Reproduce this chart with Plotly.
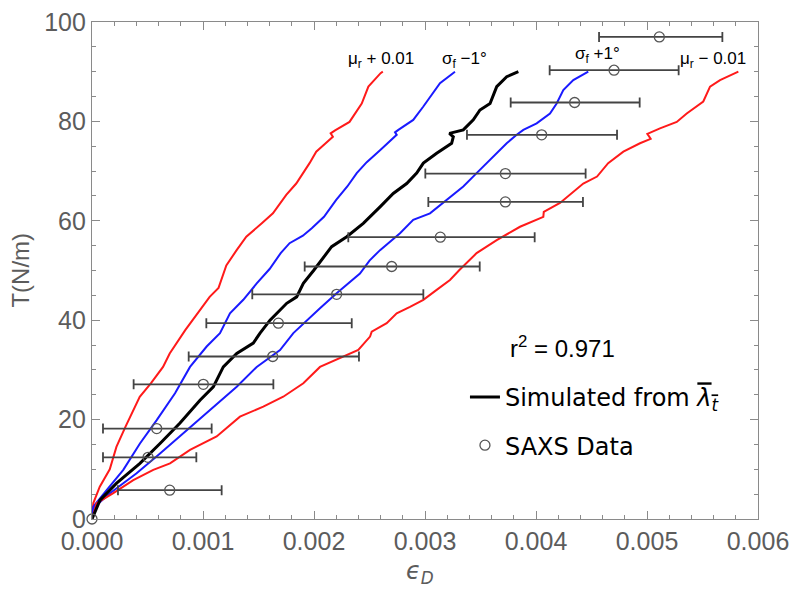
import numpy as np
import plotly.graph_objects as go

# ---------------- data (strain in units of 1e-3, tension in N/m) ----------------
red_left_x = [0, 0.012, 0.07, 0.16, 0.22, 0.30, 0.43, 0.53, 0.64, 0.70, 0.84, 0.94, 1.02, 1.06, 1.14, 1.21,
              1.30, 1.35, 1.39, 1.53, 1.63, 1.75, 1.84, 1.96, 2.02, 2.10, 2.17, 2.15, 2.19, 2.32, 2.43, 2.49,
              2.55, 2.60, 2.62]
red_left_T = [0, 3.2, 6.5, 10.0, 14.5, 18.5, 24.6, 27.3, 30.6, 33.3, 38.0, 41.0, 43.4, 44.7, 46.5, 51.0,
              54.0, 55.5, 56.8, 59.5, 61.5, 65.2, 67.5, 71.6, 73.9, 75.5, 76.9, 77.6, 78.2, 79.9, 83.6, 87.0,
              88.5, 89.7, 90.0]

blue_left_x = [0, 0.012, 0.132, 0.282, 0.432, 0.583, 0.748, 0.883, 1.033, 1.153, 1.243, 1.363, 1.484, 1.60,
               1.70, 1.78, 1.90, 1.98, 2.09, 2.20, 2.30, 2.385, 2.475, 2.534, 2.595, 2.745, 2.73, 2.76, 2.894,
               2.985, 3.075, 3.135, 3.27]
blue_left_T = [0, 2.5, 5.8, 9.9, 15.2, 19.9, 25.3, 30.6, 34.7, 37.4, 41.4, 44.1, 47.4, 50.3,
               53.5, 55.5, 57.0, 58.5, 60.8, 64.2, 66.9, 69.6, 71.8, 72.9, 74.2, 77.3, 77.8, 78.3, 80.3,
               83.0, 85.7, 87.7, 90.0]

black_x = [0, 0.072, 0.222, 0.432, 0.613, 0.793, 0.973, 1.093, 1.183, 1.304, 1.453, 1.514, 1.604, 1.754,
           1.844, 1.904, 2.00, 2.159, 2.295, 2.444, 2.595, 2.714, 2.835, 2.925, 2.985, 3.105, 3.24, 3.255,
           3.22, 3.345, 3.435, 3.495, 3.586, 3.646, 3.736, 3.841]
black_T = [0, 3.8, 7.2, 11.2, 15.2, 19.3, 23.9, 26.6, 30.6, 33.3, 35.4, 37.4, 40.0, 43.4,
           44.7, 47.4, 50.1, 54.8, 56.8, 59.5, 62.8, 65.5, 67.5, 69.6, 71.6, 73.6, 75.6, 76.9,
           77.6, 78.3, 80.3, 82.3, 83.6, 87.0, 89.0, 90.0]

blue_right_x = [0, 0.027, 0.162, 0.402, 0.613, 0.853, 1.093, 1.304, 1.484, 1.694, 1.814, 1.934, 2.054,
                2.204, 2.414, 2.50, 2.595, 2.775, 2.894, 3.045, 3.195, 3.345, 3.465, 3.556, 3.646, 3.736,
                3.826, 3.886, 4.006, 4.126, 4.186, 4.246, 4.336, 4.471]
blue_right_T = [0, 2.5, 5.2, 9.2, 13.2, 17.9, 22.6, 26.6, 30.6, 34.0, 37.4, 40.0, 42.4,
                45.4, 49.4, 52.0, 54.1, 57.5, 60.2, 61.5, 64.2, 66.9, 69.6, 71.6, 73.6, 75.6,
                77.3, 78.3, 79.6, 81.6, 83.6, 86.3, 88.3, 90.0]

red_right_x = [0, 0.042, 0.192, 0.372, 0.552, 0.703, 0.883, 1.123, 1.333, 1.543, 1.723, 1.904, 2.054,
               2.234, 2.399, 2.505, 2.52, 2.655, 2.745, 2.865, 2.985, 3.105, 3.225, 3.31, 3.465, 3.646,
               3.856, 4.066, 4.07, 4.216, 4.336, 4.426, 4.55, 4.65, 4.787, 4.937, 5.033, 5.003, 5.117,
               5.268, 5.358, 5.448, 5.507, 5.568, 5.658, 5.823]
red_right_T = [0, 3.2, 5.2, 7.8, 9.9, 11.2, 13.9, 16.6, 20.6, 22.6, 24.6, 27.3, 30.6,
               32.3, 34.0, 36.7, 37.7, 39.4, 41.4, 42.7, 44.1, 46.1, 48.1, 50.1, 53.5, 56.1,
               58.8, 60.8, 61.8, 63.6, 65.8, 67.5, 68.9, 71.6, 73.9, 75.6, 76.5, 77.5, 78.6,
               79.9, 81.6, 83.0, 84.0, 87.0, 88.3, 90.0]

saxs_x = [0, 0.70, 0.505, 0.583, 1.003, 1.628, 1.679, 2.204, 2.70, 3.138, 3.724, 3.724, 4.051, 4.348, 4.703, 5.111]
saxs_T = [0, 5.8, 12.4, 18.2, 27.1, 32.7, 39.4, 45.2, 50.8, 56.7, 63.8, 69.5, 77.3, 83.8, 90.3, 97.0]
saxs_lo = [0, 0.234, 0.099, 0.099, 0.375, 0.871, 1.03, 1.444, 1.916, 2.309, 3.03, 3.003, 3.378, 3.772, 4.123, 4.568]
saxs_hi = [0, 1.168, 0.94, 1.078, 1.634, 2.405, 2.34, 2.985, 3.493, 3.988, 4.423, 4.447, 4.73, 4.934, 5.285, 5.679]

x_ticks = [0, 0.001, 0.002, 0.003, 0.004, 0.005, 0.006]
y_ticks = [0, 20, 40, 60, 80, 100]

S = 1e-3
def sx(v):
    return np.array(v) * S

fig = go.Figure()

curves = [
    (red_left_x, red_left_T, "#ff1a1a", 2),
    (blue_left_x, blue_left_T, "#1a1aff", 2),
    (blue_right_x, blue_right_T, "#1a1aff", 2),
    (red_right_x, red_right_T, "#ff1a1a", 2),
]
for cx, cy, col, w in curves:
    fig.add_trace(go.Scatter(x=sx(cx), y=cy, mode="lines", line=dict(color=col, width=w),
                             showlegend=False, hoverinfo="skip", cliponaxis=False))

fig.add_trace(go.Scatter(
    x=sx(black_x), y=black_T, mode="lines", line=dict(color="black", width=3),
    name='Simulated from <span style="text-decoration:overline"><i>λ<sub>t</sub></i></span>',
    legendgroup="a", cliponaxis=False))

sx_arr = sx(saxs_x)
fig.add_trace(go.Scatter(
    x=sx_arr, y=saxs_T, mode="markers",
    marker=dict(symbol="circle-open", size=10, color="#555555", line=dict(width=1.3, color="#555555")),
    error_x=dict(type="data", symmetric=False,
                 array=sx(saxs_hi) - sx_arr, arrayminus=sx_arr - sx(saxs_lo),
                 color="#444444", thickness=1.8, width=5),
    name="SAXS Data", legendgroup="b", cliponaxis=False))

axis_common = dict(
    showline=True, linecolor="#8a8a8a", linewidth=1.3, mirror="ticks",
    ticks="inside", ticklen=8, tickwidth=1.2, tickcolor="#8a8a8a",
    showgrid=False, zeroline=False, automargin=False, ticklabeloverflow="allow",
    tickfont=dict(family="Liberation Sans", size=25, color="#5c5c5c"),
)

fig.update_xaxes(range=[0, 0.006], tickvals=x_ticks, tickformat=".3f",
                 minor=dict(ticks="inside", ticklen=4, dtick=0.0002, tickcolor="#8a8a8a", tickwidth=1),
                 **axis_common)
fig.update_yaxes(range=[0, 100], tickvals=y_ticks,
                 minor=dict(ticks="inside", ticklen=4, dtick=5, tickcolor="#8a8a8a", tickwidth=1),
                 **axis_common)

lab_font = dict(family="Liberation Sans", size=17, color="black")
annots = [
    dict(x=0.002604, y=92.3, text="μ<sub>r</sub> + 0.01"),
    dict(x=0.00336, y=92.3, text="σ<sub>f</sub> −1°"),
    dict(x=0.00455, y=93.3, text="σ<sub>f</sub> +1°"),
    dict(x=0.005595, y=92.3, text="μ<sub>r</sub> − 0.01"),
]
for a in annots:
    fig.add_annotation(xref="x", yref="y", showarrow=False, font=lab_font,
                       xanchor="center", yanchor="middle", **a)

fig.add_annotation(xref="x", yref="y", x=0.00375, y=34.6, text="r<sup>2</sup> = 0.971",
                   showarrow=False, xanchor="left", yanchor="middle",
                   font=dict(family="Liberation Sans", size=24, color="black"))

fig.add_annotation(xref="paper", yref="paper", x=-0.108, y=0.5, text="T(N/m)", textangle=-90,
                   showarrow=False, xanchor="center", yanchor="middle",
                   font=dict(family="Liberation Sans", size=24, color="#5c5c5c"))
fig.add_annotation(xref="paper", yref="paper", x=0.4925, y=-0.107, text="<i>ϵ<sub>D</sub></i>",
                   showarrow=False, xanchor="center", yanchor="middle",
                   font=dict(family="DejaVu Sans", size=24, color="#5c5c5c"))

fig.update_layout(
    width=782, height=576,
    margin=dict(l=84, r=32, t=14, b=65),
    paper_bgcolor="white", plot_bgcolor="white",
    showlegend=True,
    legend=dict(x=0.56, y=0.29, xanchor="left", yanchor="top",
                font=dict(family="DejaVu Sans", size=24, color="black"),
                bgcolor="rgba(0,0,0,0)", tracegroupgap=14, itemwidth=30),
)

fig.write_html("out.html")
